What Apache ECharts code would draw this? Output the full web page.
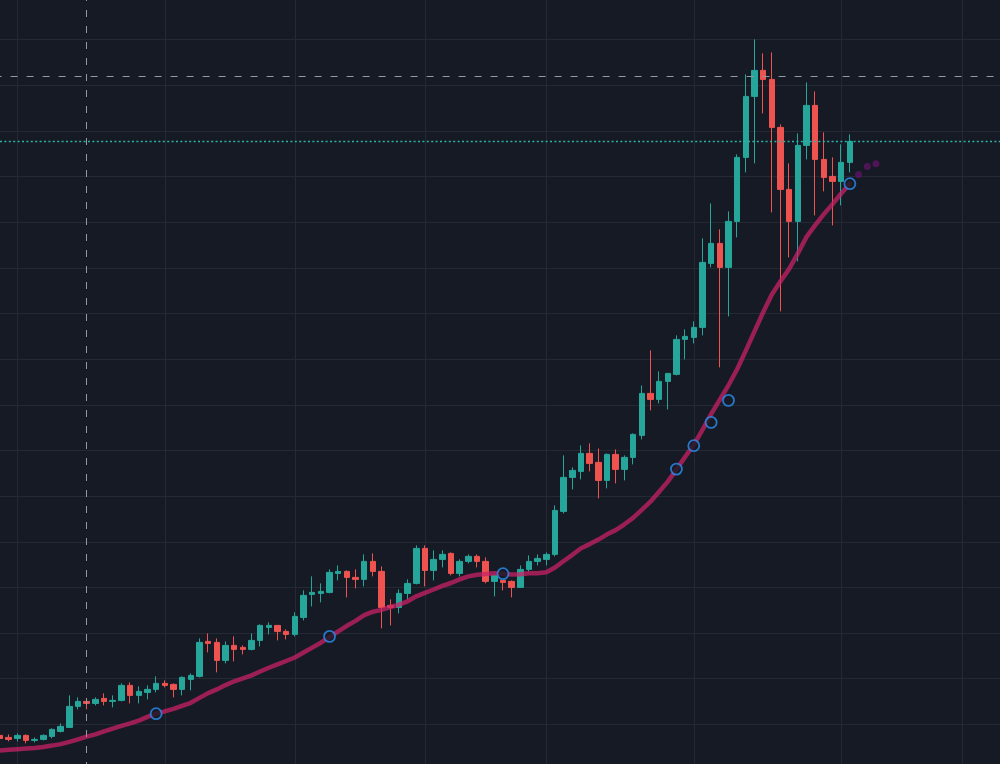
<!DOCTYPE html>
<html>
<head>
<meta charset="utf-8">
<title>Candles with MA</title>
<script src="https://cdn.jsdelivr.net/npm/echarts@6/dist/echarts.min.js"></script>
<style>
  html, body { margin: 0; padding: 0; background: #161a25; overflow: hidden; }
  /* slightly larger than the window: the last grid row and column sit just off screen */
  #chart { position: absolute; left: 0; top: 0; width: 1006px; height: 770px; }
</style>
</head>
<body>
<div id="chart"></div>
<script>
// one candle per bar: [open, close, low, high]
const candles = [
  [3.46, 3.16, 2.96, 3.56], [3.26, 3.06, 2.86, 3.56], [3.16, 3.46, 2.86, 3.66], [3.46, 2.96, 2.66, 3.56],
  [2.96, 3.06, 2.76, 3.26], [3.06, 3.46, 2.96, 3.56], [3.36, 4.06, 3.16, 4.16], [3.86, 4.36, 3.76, 4.66],
  [4.26, 6.36, 4.26, 7.46], [6.36, 6.86, 6.06, 7.26], [6.86, 6.66, 6.06, 7.06], [6.66, 7.06, 6.46, 7.26],
  [7.16, 6.86, 6.46, 7.66], [6.86, 6.96, 6.26, 7.46], [6.96, 8.46, 6.86, 8.66], [8.46, 7.46, 6.66, 8.76],
  [7.46, 7.86, 6.66, 8.36], [7.76, 8.06, 7.06, 8.46], [8.06, 8.66, 7.76, 9.36], [8.66, 8.46, 8.26, 8.96],
  [8.56, 8.06, 7.26, 8.66], [8.06, 9.26, 7.46, 9.36], [9.06, 9.46, 7.96, 9.66], [9.36, 12.76, 9.26, 13.16],
  [12.86, 12.66, 11.76, 13.66], [12.76, 10.96, 9.76, 13.16], [10.96, 12.46, 10.66, 12.86], [12.46, 12.06, 10.86, 13.36],
  [12.26, 12.06, 11.56, 12.46], [12.06, 12.96, 11.96, 13.66], [12.96, 14.46, 12.36, 14.56], [14.26, 14.46, 13.56, 14.76],
  [14.46, 13.86, 12.96, 14.46], [13.86, 13.56, 13.06, 14.06], [13.56, 15.36, 13.36, 15.76], [15.26, 17.46, 14.96, 17.96],
  [17.56, 17.76, 16.36, 19.36], [17.66, 17.86, 16.76, 18.66], [17.76, 19.76, 17.66, 20.06], [19.66, 19.86, 18.96, 20.46],
  [19.86, 19.26, 17.26, 19.96], [19.26, 19.06, 18.16, 20.06], [19.06, 20.86, 18.36, 21.56], [20.86, 19.86, 19.36, 21.66],
  [19.86, 16.26, 14.16, 20.36], [16.46, 16.26, 14.46, 17.06], [16.26, 17.66, 15.66, 18.06], [17.66, 18.66, 17.06, 19.06],
  [18.66, 22.16, 18.56, 22.46], [22.16, 19.96, 18.36, 22.46], [19.96, 21.06, 18.96, 21.96], [21.06, 21.56, 20.26, 21.96],
  [21.66, 19.66, 19.46, 21.76], [19.66, 20.86, 19.36, 21.06], [20.86, 21.36, 20.66, 21.56], [21.36, 20.86, 20.26, 21.56],
  [20.86, 18.86, 18.66, 21.26], [18.86, 19.46, 17.36, 19.56], [18.96, 18.76, 17.96, 18.96], [18.86, 18.26, 17.26, 18.96],
  [18.26, 20.06, 18.26, 20.46], [20.06, 20.86, 19.86, 21.46], [20.86, 21.16, 20.46, 21.56], [21.06, 21.56, 20.46, 21.76],
  [21.56, 25.96, 21.36, 26.46], [25.86, 29.26, 25.66, 31.46], [29.26, 29.96, 28.06, 30.26], [29.86, 31.66, 29.06, 32.46],
  [31.66, 30.66, 29.86, 32.66], [30.76, 28.96, 27.16, 32.16], [28.96, 31.56, 28.16, 31.66], [31.56, 30.06, 28.66, 32.06],
  [30.06, 31.26, 28.96, 31.46], [31.26, 33.56, 30.56, 33.66], [33.46, 37.66, 33.06, 38.46], [37.66, 37.06, 35.96, 41.96],
  [37.06, 38.86, 36.66, 39.86], [38.86, 39.66, 36.06, 39.66], [39.56, 43.06, 39.46, 43.46], [43.06, 43.36, 41.06, 44.06],
  [43.26, 44.26, 42.66, 44.86], [44.26, 50.76, 43.46, 53.16], [50.66, 52.66, 50.26, 56.66], [52.66, 50.26, 40.26, 54.06],
  [50.26, 54.86, 45.36, 55.86], [54.86, 61.26, 53.26, 61.56], [61.26, 67.36, 59.76, 69.56], [67.36, 69.96, 60.66, 73.06],
  [69.96, 69.06, 65.66, 71.66], [69.06, 64.26, 55.76, 71.76], [64.26, 58.06, 45.86, 64.56], [58.06, 54.86, 51.26, 60.66],
  [54.86, 62.46, 50.86, 63.66], [62.46, 66.46, 61.06, 68.76], [66.46, 61.06, 55.46, 67.86], [61.06, 59.26, 57.86, 63.76],
  [59.36, 58.86, 54.46, 61.26], [58.86, 60.76, 56.46, 62.56], [60.76, 62.86, 59.76, 63.56]
];

// moving average under the candles, one value per bar
const ma20 = [
  1.96, 2.03, 2.08, 2.14, 2.21, 2.31, 2.44, 2.59, 2.81, 3.06,
  3.33, 3.56, 3.86, 4.13, 4.41, 4.66, 4.94, 5.31, 5.63, 5.86,
  6.11, 6.42, 6.72, 7.21, 7.69, 8.06, 8.49, 8.87, 9.16, 9.46,
  9.85, 10.22, 10.57, 10.90, 11.25, 11.75, 12.24, 12.73, 13.29, 13.86,
  14.42, 14.91, 15.48, 15.83, 16.01, 16.28, 16.54, 16.87, 17.37, 17.72,
  18.05, 18.41, 18.70, 19.06, 19.36, 19.53, 19.59, 19.67, 19.62, 19.54,
  19.58, 19.67, 19.68, 19.77, 20.25, 20.90, 21.52, 22.17, 22.59, 23.04,
  23.57, 23.99, 24.57, 25.21, 26.02, 26.83, 27.83, 28.84, 30.06, 31.31,
  32.52, 34.02, 35.59, 37.03, 38.47, 40.07, 41.94, 43.86, 45.78, 47.54,
  48.87, 50.11, 51.66, 53.31, 54.48, 55.59, 56.59, 57.65, 58.64
];

// rings drawn on the MA: bar index and level
const signalBars = [18, 38, 58, 78, 80, 82, 84, 98];
const signalValues = [5.63, 13.36, 19.63, 30.09, 32.43, 34.76, 36.96, 58.63];
const projection = [59.56, 60.36, 60.63];               // dots after the last bar
const gridBars = [2, 19, 34, 49, 63, 80, 97, 111];      // vertical grid lines
const crossBar = 10;
const crossPrice = 69.36;
const barCount = 117;

const bars = [];
for (let i = 0; i < barCount; i++) bars.push('B' + (i + 1));
const lastClose = candles[candles.length - 1][1];

const bg = '#161a25';
const up = '#26a69a';
const down = '#ef5350';

const chart = echarts.init(document.getElementById('chart'), null, { renderer: 'canvas' });
chart.setOption({
  backgroundColor: bg,
  animation: false,
  grid: { left: 0, right: 0, top: 0, bottom: 0, containLabel: false },
  xAxis: {
    type: 'category',
    data: bars,
    boundaryGap: false,
    axisLine: { show: false },
    axisTick: { show: false },
    axisLabel: { show: false },
    splitLine: {
      show: true,
      interval: (idx) => gridBars.includes(idx),
      lineStyle: { color: '#252934', width: 1 }
    }
  },
  yAxis: {
    type: 'value',
    min: 0,
    max: 77,
    interval: 4.565,
    axisLine: { show: false },
    axisTick: { show: false },
    axisLabel: { show: false },
    splitLine: {
      show: true,
      showMaxLine: false,
      showMinLine: false,
      lineStyle: { color: '#252934', width: 1 }
    }
  },
  series: [
    {
      type: 'candlestick',
      data: candles,
      barWidth: 6,
      clip: false,
      itemStyle: {
        color: up, color0: down,
        borderColor: up, borderColor0: down,
        borderWidth: 1
      },
      markLine: {
        silent: true,
        symbol: 'none',
        label: { show: false },
        emphasis: { disabled: true },
        data: [
          { xAxis: bars[crossBar], lineStyle: { color: '#9598a1', width: 1, type: [7, 9], dashOffset: 15 } },
          { yAxis: crossPrice, lineStyle: { color: '#9598a1', width: 1, type: [7, 9], dashOffset: 5.4 } },
          { yAxis: lastClose, lineStyle: { color: '#2bb5a7', width: 1.4, type: [2, 2.4] } }
        ]
      }
    },
    {
      type: 'line',
      data: ma20,
      showSymbol: false,
      smooth: false,
      z: 3,
      lineStyle: { color: 'rgba(200,33,101,0.75)', width: 4.5, cap: 'round', join: 'round' }
    },
    {
      type: 'scatter',
      data: projection.map((v, i) => [candles.length + i, v]),
      symbol: 'circle',
      symbolSize: 7,
      z: 4,
      itemStyle: { color: '#5b1363' }
    },
    {
      type: 'scatter',
      data: signalBars.map((b, i) => [b, signalValues[i]]),
      symbol: 'circle',
      symbolSize: 11,
      z: 5,
      itemStyle: { color: bg, borderColor: '#2a8ff0', borderWidth: 1.8 }
    }
  ]
});
</script>
</body>
</html>
